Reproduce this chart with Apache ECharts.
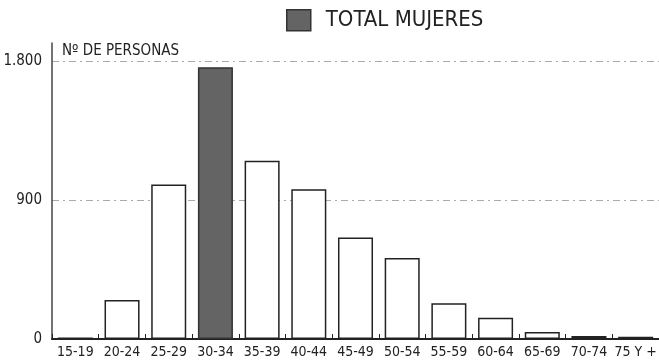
<!DOCTYPE html>
<html>
<head>
<meta charset="utf-8">
<script src="https://cdn.jsdelivr.net/npm/echarts@6/dist/echarts.min.js"></script>
<style>html,body{margin:0;padding:0;background:#fff}#c{width:659px;height:364px}</style>
</head>
<body>
<div id="c"></div>
<script>
const categories = ['15-19','20-24','25-29','30-34','35-39','40-44','45-49','50-54','55-59','60-64','65-69','70-74','75 Y +'];
const values = [10, 252, 1000, 1760, 1155, 970, 657, 524, 231, 138, 45, 20, 15];
const highlighted = '30-34';
const seriesName = 'TOTAL MUJERES';
const yAxisTitle = 'Nº DE PERSONAS';

const FONT = "'Liberation Sans Narrow', 'DejaVu Sans Condensed', sans-serif";
const chart = echarts.init(document.getElementById('c'), null, {renderer: 'canvas'});
chart.setOption({
  animation: false,
  title: {
    text: yAxisTitle, left: 57, top: 39,
    textStyle: {fontFamily: FONT, fontSize: 15, fontWeight: 'normal', color: '#222'}
  },
  legend: {
    left: 281, top: 4, icon: 'rect',
    itemWidth: 24, itemHeight: 21,
    itemStyle: {borderColor: '#333', borderWidth: 1.5},
    textStyle: {fontFamily: FONT, fontSize: 22, color: '#222', padding: [0, 0, 0, 10]},
    data: [seriesName]
  },
  grid: {left: 52, right: 0, top: 43, bottom: 25, containLabel: false, outerBoundsMode: 'none'},
  xAxis: {
    type: 'category', data: categories,
    axisLine: {lineStyle: {color: '#222', width: 2}},
    axisTick: {show: true, inside: true, length: 5, lineStyle: {color: '#222', width: 1}},
    axisLabel: {fontFamily: FONT, fontSize: 14, color: '#222', margin: 6, interval: 0}
  },
  yAxis: {
    type: 'value', min: 0, max: 1917, interval: 900,
    axisLine: {show: true, lineStyle: {color: '#444', width: 1.5}},
    axisTick: {show: false},
    axisLabel: {
      fontFamily: FONT, fontSize: 15, color: '#222', margin: 10, showMaxLabel: false,
      formatter: v => (v % 900 === 0) ? String(v).replace(/\B(?=(\d{3})+(?!\d))/g, '.') : ''
    },
    splitLine: {show: true, showMinLine: false, showMaxLine: false,
      lineStyle: {color: '#aaa', type: [7, 4, 2, 4], width: 1}}
  },
  series: [{
    name: seriesName, type: 'bar', barCategoryGap: '25%',
    itemStyle: {color: '#646464', borderColor: '#333', borderWidth: 1.5},
    data: values.map((v, i) => categories[i] === highlighted ? v :
      {value: v, itemStyle: {color: '#fff', borderColor: '#222', borderWidth: 1.5}})
  }]
});
</script>
</body>
</html>
